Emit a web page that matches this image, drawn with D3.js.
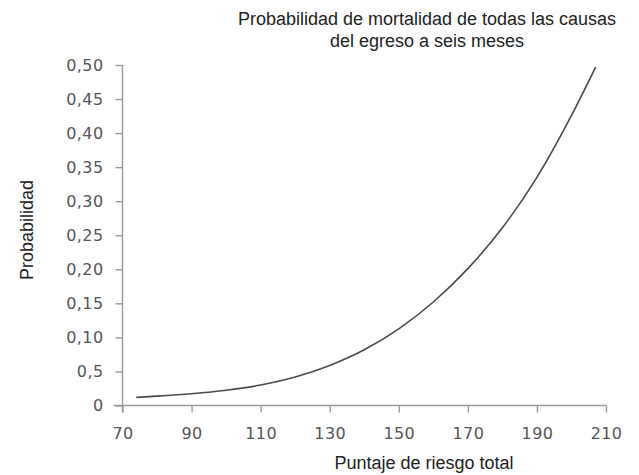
<!DOCTYPE html>
<html>
<head>
<meta charset="utf-8">
<script src="https://cdn.jsdelivr.net/npm/d3@7"></script>
<style>
  html, body { margin: 0; padding: 0; background: #fff; }
  svg { display: block; }
</style>
</head>
<body>
<svg id="chart" width="639" height="475"></svg>
<script>
// Puntaje de riesgo total (x) and the estimated probability at each score (y)
const scores = [74, 80, 90, 100, 110, 120, 130, 140, 150, 160, 170, 180, 190, 200, 207];
const probability = [0.0120, 0.0137, 0.0172, 0.0223, 0.0301, 0.0418, 0.0588, 0.0818, 0.1126, 0.152, 0.201, 0.261, 0.335, 0.426, 0.497];

const xTicks = [70, 90, 110, 130, 150, 170, 190, 210];
const yTicks = [0, 0.05, 0.10, 0.15, 0.20, 0.25, 0.30, 0.35, 0.40, 0.45, 0.50];
const yTickLabels = ["0", "0,5", "0,10", "0,15", "0,20", "0,25", "0,30", "0,35", "0,40", "0,45", "0,50"];

const titleLines = ["Probabilidad de mortalidad de todas las causas", "del egreso a seis meses"];
const xTitle = "Puntaje de riesgo total";
const yTitle = "Probabilidad";

const svg = d3.select("#chart");

const x = d3.scaleLinear().domain([70, 210]).range([122.5, 606]);
const y = d3.scaleLinear().domain([0, 0.5]).range([405.5, 65]);

const axisColor = "#9a9a9a";
const labelColor = "#555";
const tickFont = "'DejaVu Sans', sans-serif";
const textFont = "'Liberation Sans', Arial, sans-serif";

// x axis: ticks hang below the baseline
const gx = svg.append("g")
  .attr("transform", `translate(0,${y(0)})`)
  .call(d3.axisBottom(x).tickValues(xTicks).tickSize(7).tickPadding(15).tickFormat(d3.format("d")));

// y axis: ticks point left, labels use comma decimals
const gy = svg.append("g")
  .attr("transform", `translate(${x(70)},0)`)
  .call(d3.axisLeft(y).tickValues(yTicks).tickSize(7).tickPadding(12)
    .tickFormat((d, i) => yTickLabels[i]));

[gx, gy].forEach(g => {
  g.select(".domain").attr("stroke", axisColor).attr("stroke-width", 1.4);
  g.selectAll(".tick line").attr("stroke", axisColor).attr("stroke-width", 1.4);
  g.selectAll(".tick text")
    .attr("fill", labelColor)
    .style("font-family", tickFont)
    .style("font-size", "16px")
    .style("letter-spacing", "0.4px");
});
// the x axis line starts a little left of the y axis
gx.select(".domain").attr("d", `M${x(70) - 9},0H${x(210)}`);
gy.select(".domain").attr("d", `M0,${y(0.5)}V${y(0) + 7}`);

// probability curve
const line = d3.line()
  .x((d, i) => x(scores[i]))
  .y(d => y(d))
  .curve(d3.curveMonotoneX);

svg.append("path")
  .datum(probability)
  .attr("d", line)
  .attr("fill", "none")
  .attr("stroke", "#4a4a4a")
  .attr("stroke-width", 1.6);

// title
svg.append("text")
  .attr("y", 25)
  .attr("text-anchor", "middle")
  .attr("fill", "#222")
  .style("font-family", textFont)
  .style("font-size", "18px")
  .selectAll("tspan")
  .data(titleLines)
  .join("tspan")
  .attr("x", 427)
  .attr("dy", (d, i) => i === 0 ? 0 : 22)
  .text(d => d);

// axis titles
svg.append("text")
  .attr("x", 424)
  .attr("y", 469)
  .attr("text-anchor", "middle")
  .attr("fill", "#222")
  .style("font-family", textFont)
  .style("font-size", "18px")
  .text(xTitle);

svg.append("text")
  .attr("transform", "translate(33,230) rotate(-90)")
  .attr("text-anchor", "middle")
  .attr("fill", "#222")
  .style("font-family", textFont)
  .style("font-size", "18px")
  .text(yTitle);
</script>
</body>
</html>
